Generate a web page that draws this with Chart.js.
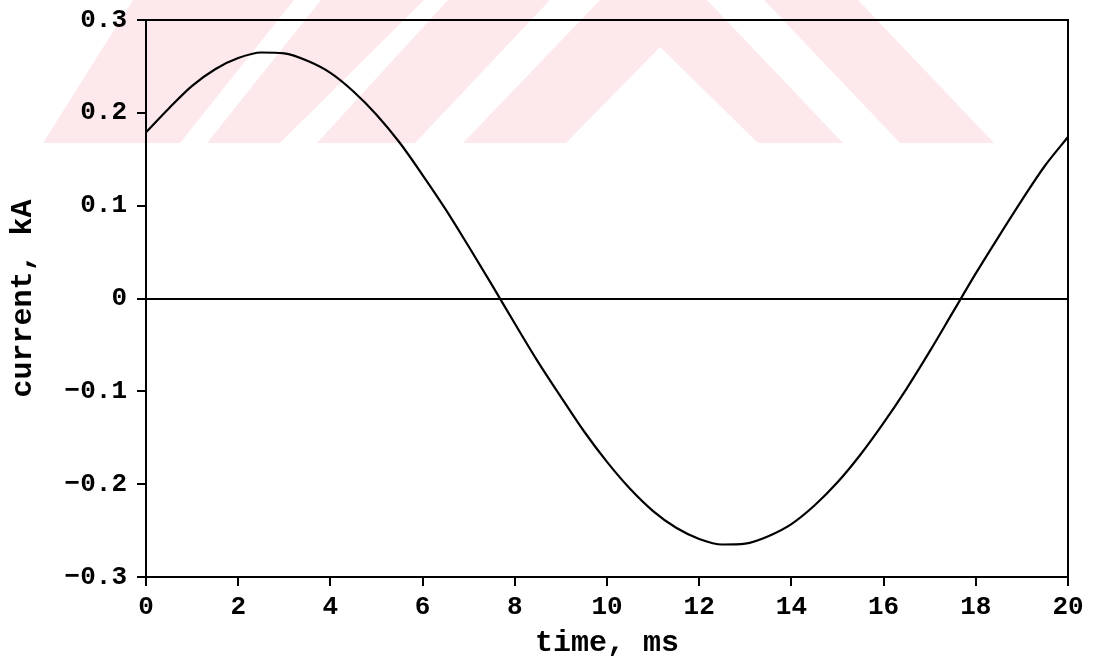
<!DOCTYPE html>
<html lang="en">
<head>
<meta charset="UTF-8">
<meta name="viewport" content="width=device-width, initial-scale=1.0">
<title>Current, kA vs time, ms</title>
<style>
  html, body { margin: 0; padding: 0; background: #fff; }
  #wrap { width: 1099px; height: 665px; }
</style>
</head>
<body>
<div id="wrap"><canvas id="grafica"></canvas></div>

<script src="https://cdn.jsdelivr.net/npm/chart.js@4.4.1/dist/chart.umd.min.js"></script>
<script>
// sampled waveform, every 0.5 ms
const timeMs = [0, 0.5, 1, 1.5, 2, 2.5, 3, 3.5, 4, 4.5, 5, 5.5, 6, 6.5, 7, 7.5, 8, 8.5, 9, 9.5,
                10, 10.5, 11, 11.5, 12, 12.5, 13, 13.5, 14, 14.5, 15, 15.5, 16, 16.5, 17, 17.5, 18, 18.5, 19, 19.5, 20];
const currentKA = [0.179, 0.205, 0.229, 0.247, 0.259, 0.265, 0.264, 0.256, 0.243, 0.223,
                   0.198, 0.168, 0.133, 0.096, 0.056, 0.015, -0.027, -0.068, -0.106, -0.143,
                   -0.176, -0.205, -0.229, -0.247, -0.259, -0.265, -0.264, -0.256, -0.243, -0.223,
                   -0.198, -0.168, -0.134, -0.097, -0.057, -0.015, 0.027, 0.067, 0.106, 0.143, 0.174];

const xTicks = [0, 2, 4, 6, 8, 10, 12, 14, 16, 18, 20];
const xTickLabels = ['0', '2', '4', '6', '8', '10', '12', '14', '16', '18', '20'];
const yTicks = [-0.3, -0.2, -0.1, 0, 0.1, 0.2, 0.3];
const yTickLabels = ['\u22120.3', '\u22120.2', '\u22120.1', '0', '0.1', '0.2', '0.3'];

const mono = "'Liberation Mono', 'Courier New', 'DejaVu Sans Mono', monospace";

// faint striped stamp behind the top of the figure
const stampColor = '#fde9ec';
const stampShapes = [
    [[43, 143], [180, 143], [294, 0], [133, 0]],
    [[207, 143], [280, 143], [424, 0], [321, 0]],
    [[317, 143], [415, 143], [550, 0], [448, 0]],
    [[463, 143], [566, 143], [660, 47], [758, 143], [843, 143], [707, 0], [600, 0]],
    [[900, 143], [994, 143], [858, 0], [764, 0]]
];

const fondo = {
    id: 'fondo',
    beforeDraw(chart) {
        const ctx = chart.ctx;
        ctx.save();
        ctx.fillStyle = '#fff';
        ctx.fillRect(0, 0, chart.width, chart.height);
        ctx.fillStyle = stampColor;
        stampShapes.forEach(poly => {
            ctx.beginPath();
            poly.forEach((p, i) => i ? ctx.lineTo(p[0], p[1]) : ctx.moveTo(p[0], p[1]));
            ctx.closePath();
            ctx.fill();
        });
        ctx.restore();
    }
};

// closed frame around the plot area
const marco = {
    id: 'marco',
    afterDraw(chart) {
        const a = chart.chartArea;
        const ctx = chart.ctx;
        ctx.save();
        ctx.strokeStyle = '#000';
        ctx.lineWidth = 2;
        ctx.strokeRect(a.left, a.top, a.right - a.left, a.bottom - a.top);
        ctx.restore();
    }
};

const pick = (vals, labels) => v => {
    const i = vals.findIndex(t => Math.abs(t - v) < 1e-6);
    return i >= 0 ? labels[i] : '';
};

const ctx = document.getElementById('grafica').getContext('2d');
const grafica = new Chart(ctx, {
    type: 'line',
    data: {
        datasets: [{
            data: timeMs.map((t, i) => ({ x: t, y: currentKA[i] })),
            borderColor: '#000',
            borderWidth: 2.2,
            pointRadius: 0,
            fill: false,
            cubicInterpolationMode: 'monotone'
        }]
    },
    options: {
        responsive: true,
        maintainAspectRatio: false,
        animation: false,
        layout: { padding: { top: 20, right: 31, left: 0, bottom: 0 } },
        plugins: { legend: { display: false }, tooltip: { enabled: false } },
        scales: {
            x: {
                type: 'linear',
                min: 0,
                max: 20,
                afterBuildTicks: s => { s.ticks = xTicks.map(v => ({ value: v })); },
                afterFit: s => { s.height = 88; s.paddingLeft = 0; s.paddingRight = 0; },
                grid: { drawOnChartArea: false, color: '#000', tickColor: '#000', tickLength: 9, lineWidth: 2 },
                border: { color: '#000', width: 2 },
                ticks: {
                    color: '#000',
                    font: { family: mono, size: 26, weight: 'bold' },
                    padding: 6,
                    maxRotation: 0,
                    autoSkip: false,
                    callback: pick(xTicks, xTickLabels)
                },
                title: {
                    display: true,
                    text: 'time, ms',
                    color: '#000',
                    font: { family: mono, size: 30, weight: 'bold' },
                    padding: { top: 0, bottom: 4 }
                }
            },
            y: {
                min: -0.3,
                max: 0.3,
                afterBuildTicks: s => { s.ticks = yTicks.map(v => ({ value: v })); },
                afterFit: s => { s.width = 146; s.paddingTop = 0; s.paddingBottom = 0; },
                grid: {
                    color: c => (c.tick && Math.abs(c.tick.value) < 1e-6) ? '#000' : 'rgba(0,0,0,0)',
                    tickColor: '#000',
                    tickLength: 9,
                    lineWidth: 2
                },
                border: { color: '#000', width: 2 },
                ticks: {
                    color: '#000',
                    font: { family: mono, size: 26, weight: 'bold' },
                    padding: 10,
                    autoSkip: false,
                    callback: pick(yTicks, yTickLabels)
                },
                title: {
                    display: true,
                    text: 'current, kA',
                    color: '#000',
                    font: { family: mono, size: 30, weight: 'bold' },
                    padding: { top: 5, bottom: 0 }
                }
            }
        }
    },
    plugins: [fondo, marco]
});
</script>
</body>
</html>
